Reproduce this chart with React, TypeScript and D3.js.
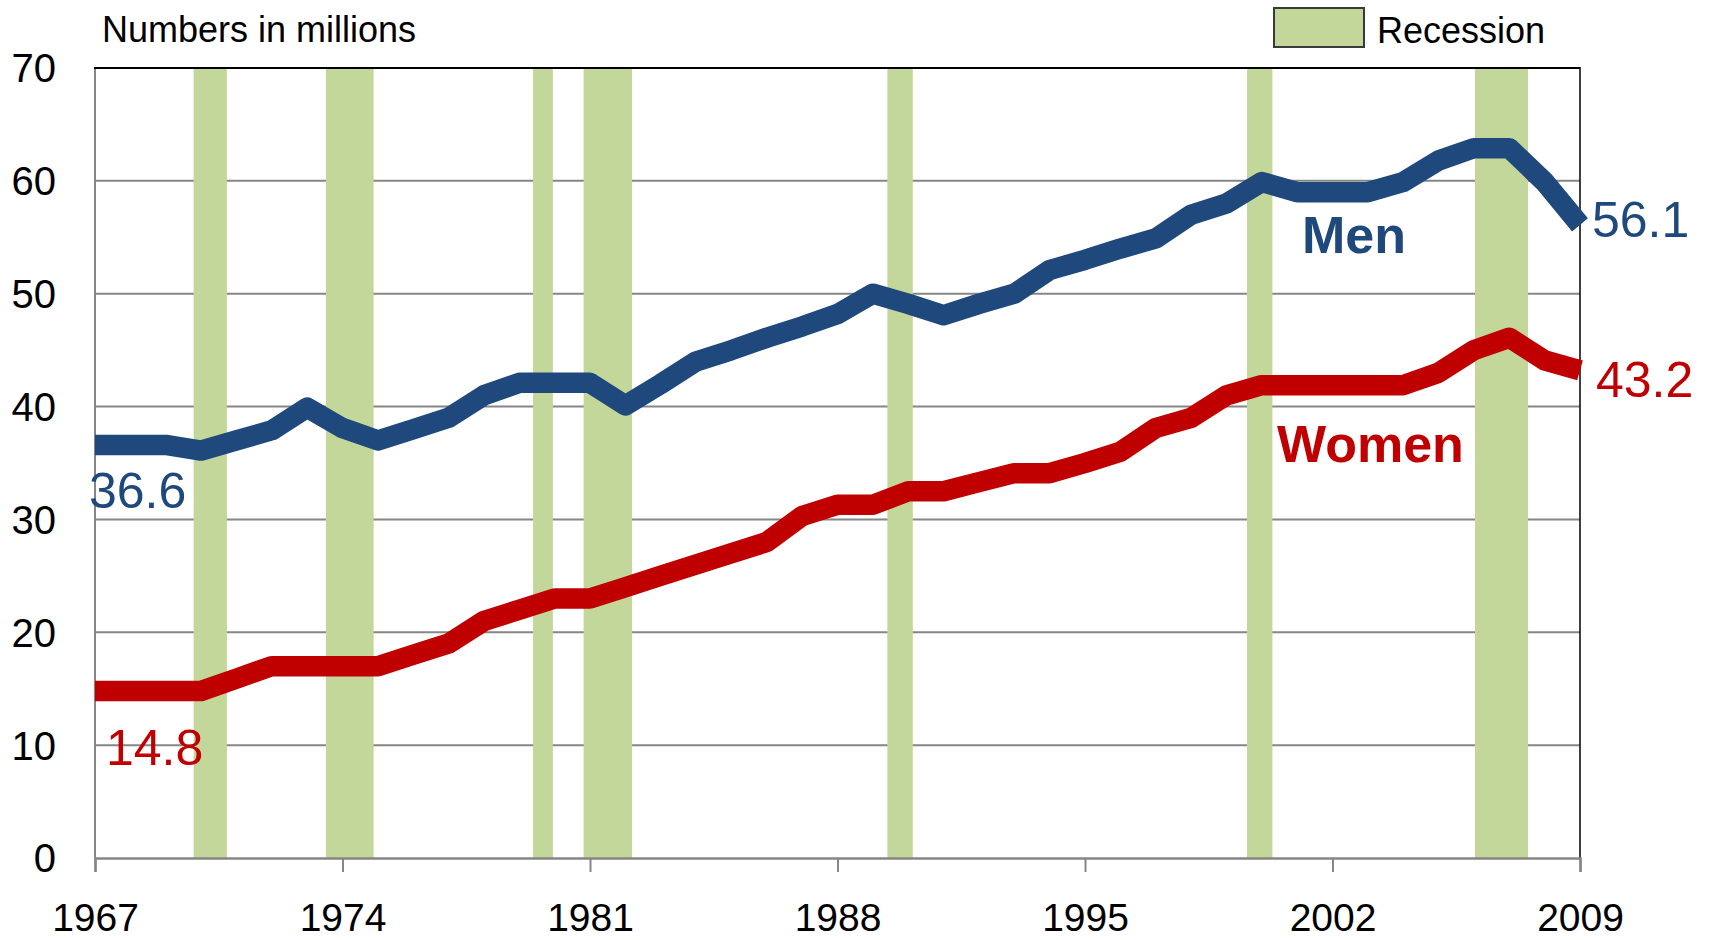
import { useEffect, useRef } from 'react';
import * as d3 from 'd3';

const years = [
  1967, 1968, 1969, 1970, 1971, 1972, 1973, 1974, 1975, 1976, 1977, 1978, 1979, 1980, 1981,
  1982, 1983, 1984, 1985, 1986, 1987, 1988, 1989, 1990, 1991, 1992, 1993, 1994, 1995, 1996,
  1997, 1998, 1999, 2000, 2001, 2002, 2003, 2004, 2005, 2006, 2007, 2008, 2009,
];

const men = [
  36.6, 36.6, 36.6, 36.1, 37.0, 37.9, 39.9, 38.1, 37.0, 38.0, 39.0, 41.0, 42.1, 42.1, 42.1,
  40.1, 42.0, 44.0, 45.0, 46.1, 47.1, 48.2, 50.0, 49.1, 48.1, 49.1, 50.0, 52.1, 53.0, 54.0,
  54.9, 57.0, 58.0, 59.9, 59.0, 59.0, 59.0, 59.9, 61.8, 62.9, 62.9, 59.9, 56.1,
];

const women = [
  14.8, 14.8, 14.8, 14.8, 15.9, 17.0, 17.0, 17.0, 17.0, 18.0, 19.0, 21.0, 22.0, 23.0, 23.0,
  24.0, 25.0, 26.0, 27.0, 28.0, 30.3, 31.3, 31.3, 32.5, 32.5, 33.3, 34.1, 34.1, 35.0, 36.0,
  38.1, 39.0, 41.0, 41.9, 41.9, 41.9, 41.9, 41.9, 43.0, 45.0, 46.1, 44.1, 43.2,
];

// recession spans, in axis year units
const recessions = [
  [1969.79, 1970.73],
  [1973.53, 1974.88],
  [1979.39, 1979.95],
  [1980.82, 1982.19],
  [1989.41, 1990.13],
  [1999.58, 2000.3],
  [2006.03, 2007.53],
];

const xTicks = [1967, 1974, 1981, 1988, 1995, 2002, 2009];
const yTicks = [0, 10, 20, 30, 40, 50, 60, 70];

const FONT = '"Liberation Sans", Arial, sans-serif';
const BLUE = '#1F497D';
const RED = '#C00000';
const GREEN = '#C4D79B';

const App = () => {
  const svgRef = useRef<SVGSVGElement>(null);

  useEffect(() => {
    if (!svgRef.current) return;
    const W = 1717;
    const H = 940;
    const left = 95, right = 1580, top = 68, bottom = 858;

    const svg = d3.select(svgRef.current);
    svg.selectAll('*').remove();
    svg.attr('width', W).attr('height', H).style('font-family', FONT);

    svg.append('rect').attr('width', W).attr('height', H).attr('fill', '#fff');

    const x = d3.scaleLinear().domain([1967, 2009]).range([left, right]);
    const y = d3.scaleLinear().domain([0, 70]).range([bottom, top]);

    // gridlines
    svg.append('g')
      .selectAll('line')
      .data(yTicks.filter(d => d > 0 && d < 70))
      .enter()
      .append('line')
      .attr('x1', left).attr('x2', right)
      .attr('y1', d => y(d)).attr('y2', d => y(d))
      .attr('stroke', '#868686')
      .attr('stroke-width', 2);

    // recession bars
    svg.append('g')
      .selectAll('rect')
      .data(recessions)
      .enter()
      .append('rect')
      .attr('x', d => x(d[0]))
      .attr('width', d => x(d[1]) - x(d[0]))
      .attr('y', top)
      .attr('height', bottom - top)
      .attr('fill', GREEN);

    // frame: gray left/bottom axes, black top/right
    svg.append('line').attr('x1', left).attr('x2', left).attr('y1', top).attr('y2', bottom)
      .attr('stroke', '#868686').attr('stroke-width', 2);
    svg.append('line').attr('x1', left - 1).attr('x2', right).attr('y1', top).attr('y2', top)
      .attr('stroke', '#000').attr('stroke-width', 2);
    svg.append('line').attr('x1', right).attr('x2', right).attr('y1', top - 1).attr('y2', bottom)
      .attr('stroke', '#000').attr('stroke-width', 1.5);

    // x axis
    const xAxis = svg.append('g')
      .attr('transform', `translate(0,${bottom})`)
      .call(d3.axisBottom(x).tickValues(xTicks).tickFormat(d3.format('d')).tickSize(14));
    xAxis.select('.domain').attr('stroke', '#868686').attr('stroke-width', 2.5);
    xAxis.selectAll('.tick line').attr('stroke', '#868686').attr('stroke-width', 2);
    xAxis.selectAll('.tick text')
      .attr('y', 73)
      .attr('dy', null)
      .attr('fill', '#000')
      .style('font-size', '39px')
      .style('font-family', FONT);

    // y axis labels
    svg.append('g')
      .selectAll('text')
      .data(yTicks)
      .enter()
      .append('text')
      .attr('x', 56)
      .attr('y', d => y(d))
      .attr('dy', '0.36em')
      .attr('text-anchor', 'end')
      .style('font-size', '40px')
      .attr('fill', '#000')
      .text(d => d);

    // lines
    const line = d3.line<number>()
      .x((_, i) => x(years[i]))
      .y(d => y(d));

    [
      { values: men, color: BLUE },
      { values: women, color: RED },
    ].forEach(s => {
      svg.append('path')
        .datum(s.values)
        .attr('d', line)
        .attr('fill', 'none')
        .attr('stroke', s.color)
        .attr('stroke-width', 20.5)
        .attr('stroke-linejoin', 'round')
        .attr('stroke-linecap', 'butt');
    });

    // value labels
    const fmt = d3.format('.1f');
    svg.append('text').attr('x', 89).attr('y', 508).attr('fill', BLUE)
      .style('font-size', '50px').text(fmt(men[0]));
    svg.append('text').attr('x', 106).attr('y', 765).attr('fill', RED)
      .style('font-size', '50px').text(fmt(women[0]));
    svg.append('text').attr('x', 1592).attr('y', 237).attr('fill', BLUE)
      .style('font-size', '50px').text(fmt(men[men.length - 1]));
    svg.append('text').attr('x', 1596).attr('y', 397).attr('fill', RED)
      .style('font-size', '50px').text(fmt(women[women.length - 1]));

    // series names
    svg.append('text').attr('x', 1302).attr('y', 253).attr('fill', BLUE)
      .style('font-size', '52px').style('font-weight', 'bold').text('Men');
    svg.append('text').attr('x', 1277).attr('y', 462).attr('fill', RED)
      .style('font-size', '52px').style('font-weight', 'bold').text('Women');

    // header + legend
    svg.append('text').attr('x', 102).attr('y', 42).attr('fill', '#000')
      .style('font-size', '36px').text('Numbers in millions');
    svg.append('rect').attr('x', 1274).attr('y', 8).attr('width', 90).attr('height', 39)
      .attr('fill', GREEN).attr('stroke', '#3a3a3a').attr('stroke-width', 2);
    svg.append('text').attr('x', 1377).attr('y', 43).attr('fill', '#000')
      .style('font-size', '36px').text('Recession');
  }, []);

  return (
    <div style={{ position: 'absolute', left: 0, top: 0 }}>
      <svg ref={svgRef} style={{ display: 'block' }}></svg>
    </div>
  );
};

export default App;
